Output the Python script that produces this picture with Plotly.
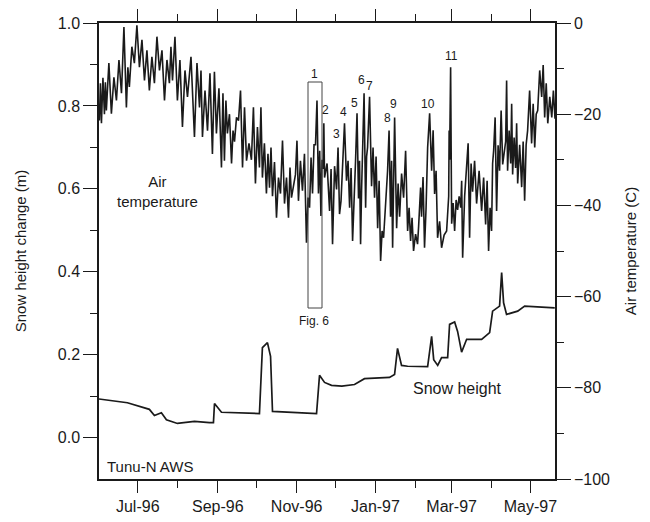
import pandas as pd
import plotly.graph_objects as go

START = pd.Timestamp("1996-06-01")

# ---- data (days since 1 Jun 1996) ----
temp_day = [0.3, 1.9, 4.2, 5.7, 9.6, 13.5, 17.4, 21.2, 23.5, 27.4, 31.3, 35.2, 39.0, 42.9, 46.8,
            50.7, 54.5, 56.9, 60.7, 64.6, 68.5, 73.9, 77.8, 80.1, 84.0, 87.8, 90.9, 94.8, 97.1,
            99.4, 102.6, 104.9, 108.0, 111.1, 114.2, 118.0, 121.1, 124.2, 126.5, 129.6, 132.0,
            134.3, 137.4, 140.5, 143.6, 146.7, 149.0, 152.1, 154.4, 157.5, 160.6, 163.0, 165.3,
            167.6, 169.9, 171.8, 173.5, 174.6, 178.5, 180.8, 183.9, 186.2, 188.5, 191.6, 194.0,
            196.3, 198.6, 200.9, 202.5, 204.0, 206.4, 207.9, 211.0, 213.3, 215.7, 218.0, 220.3,
            223.4, 225.7, 227.3, 230.4, 232.7, 235.8, 238.9, 241.2, 243.5, 246.6, 248.2, 249.7,
            252.0, 254.4, 257.5, 259.8, 262.1, 265.2, 269.1, 270.7, 271.4, 273.0, 275.3, 277.6,
            280.0, 281.5, 284.6, 286.9, 289.2, 292.3, 296.2, 299.3, 301.6, 303.9, 305.5, 307.8,
            310.1, 312.5, 314.8, 316.3, 318.7, 320.2, 322.5, 324.1, 327.2, 329.5, 331.8, 334.9,
            337.3, 339.6, 342.7, 345.0, 347.4, 350.5, 353.0]
temp_high = [-13.2, -12.0, -13.0, -8.8, -11.9, -8.1, -0.9, -9.7, -5.2, -0.5, -3.7, -6.0, -7.4, -3.0, -6.0,
             -8.1, -5.2, -3.0, -8.1, -10.4, -7.4, -8.8, -10.4, -14.8, -11.0, -10.7, -14.3, -15.4, -17.0,
             -20.0, -23.6, -20.7, -14.8, -18.5, -26.4, -18.5, -22.8, -18.5, -26.4, -28.7, -27.3,
             -30.5, -33.9, -25.8, -33.9, -31.7, -35.2, -25.8, -30.2, -28.7, -38.3, -29.5, -26.7,
             -17.0, -28.0, -30.0, -22.0, -30.8, -32.0, -31.4, -27.3, -39.0, -22.0, -30.2, -31.8,
             -36.1, -19.8, -30.2, -36.8, -15.4, -29.3, -16.2, -27.3, -29.3, -34.6, -45.6, -39.6,
             -23.6, -30.2, -20.7, -35.2, -33.0, -28.0, -40.5, -42.7, -46.3, -44.7, -36.1, -33.8,
             -40.5, -19.8, -23.5, -32.4, -43.5, -46.5, -41.2, -23.6, -9.7, -39.5, -38.8, -38.0,
             -34.6, -38.0, -26.4, -30.8, -30.2, -32.4, -33.9, -34.6, -40.5, -30.8, -20.7, -26.8,
             -19.2, -28.0, -12.6, -23.6, -17.7, -25.1, -22.0, -26.7, -26.0, -26.7, -14.8, -17.7,
             -20.0, -10.4, -9.2, -13.2, -16.2, -14.8, -15.5]
temp_low = [-21.4, -22.0, -20.0, -19.2, -19.9, -17.0, -15.4, -18.5, -14.0, -8.8, -9.7, -12.6, -14.8, -13.2, -10.4,
            -17.0, -13.2, -12.6, -17.0, -22.8, -16.2, -25.0, -18.5, -25.0, -23.6, -28.7, -24.2, -31.7, -30.2,
            -24.2, -30.8, -26.0, -21.4, -31.7, -30.2, -30.0, -35.2, -31.7, -33.9, -37.4, -36.1,
            -38.0, -42.7, -37.4, -39.6, -42.7, -38.3, -33.2, -39.0, -36.8, -48.2, -40.5, -37.4,
            -26.7, -37.4, -42.3, -32.0, -33.9, -41.2, -48.5, -36.5, -41.9, -32.4, -34.6, -40.5,
            -47.8, -30.2, -38.5, -48.5, -27.3, -40.5, -27.3, -35.8, -38.3, -45.0, -52.2, -47.1,
            -32.4, -42.5, -49.3, -45.0, -42.5, -38.3, -45.6, -47.8, -50.0, -48.5, -40.5, -42.5,
            -49.3, -27.3, -32.4, -37.5, -47.1, -49.3, -45.6, -38.0, -30.0, -44.0, -45.6, -41.0,
            -40.5, -51.5, -32.4, -47.1, -37.0, -39.6, -41.2, -44.2, -50.0, -45.6, -28.0, -41.2,
            -32.4, -31.0, -26.0, -32.4, -30.8, -33.2, -31.8, -35.2, -36.0, -39.0, -23.6, -26.4,
            -27.3, -19.2, -16.2, -20.7, -22.0, -20.7, -21.0]

snow_day = [0.0, 22.0, 39.0, 42.9, 48.3, 52.2, 60.7, 73.9, 85.5, 88.6, 89.4, 94.8, 124.2, 126.5,
            130.4, 132.8, 134.3, 151.4, 168.4, 170.7, 174.6, 180.0, 188.0, 197.8, 205.5, 224.9,
            228.8, 231.1, 234.2, 238.9, 254.4, 257.5, 259.1, 262.2, 265.2, 269.9, 271.4, 275.3,
            277.6, 280.7, 284.6, 296.2, 302.4, 304.7, 310.1, 311.7, 313.2, 315.5, 324.1, 329.5, 352.8]
snow_val = [0.093, 0.084, 0.068, 0.053, 0.060, 0.043, 0.034, 0.039, 0.036, 0.036, 0.082, 0.061, 0.058, 0.217,
            0.229, 0.196, 0.063, 0.061, 0.058, 0.150, 0.133, 0.126, 0.124, 0.128, 0.142, 0.145,
            0.152, 0.215, 0.174, 0.172, 0.171, 0.244, 0.188, 0.174, 0.193, 0.193, 0.273, 0.279,
            0.256, 0.206, 0.237, 0.237, 0.253, 0.305, 0.317, 0.398, 0.325, 0.297, 0.305, 0.317, 0.313]

major_months = ["1996-07-01", "1996-09-01", "1996-11-01", "1997-01-01", "1997-03-01", "1997-05-01"]
major_labels = ["Jul-96", "Sep-96", "Nov-96", "Jan-97", "Mar-97", "May-97"]
minor_months = ["1996-08-01", "1996-10-01", "1996-12-01", "1997-02-01", "1997-04-01"]

peak_labels = ["1", "2", "3", "4", "5", "6", "7", "8", "9", "10", "11"]

# ---- build traces: saw-tooth between the read low / high of each sample ----
tx, ty = [], []
n = len(temp_day)
for i in range(n):
    d = temp_day[i]
    nxt = temp_day[i + 1] if i + 1 < n else d + 2.0
    t_lo = START + pd.to_timedelta(d, unit="D")
    t_hi = START + pd.to_timedelta(d + 0.5 * (nxt - d), unit="D")
    tx += [t_lo, t_hi]
    ty += [temp_low[i], temp_high[i]]

sx = [START + pd.to_timedelta(d, unit="D") for d in snow_day]

FONT = "Liberation Sans, Arial, sans-serif"
INK = "#1a1a1a"

fig = go.Figure()
fig.add_trace(go.Scatter(x=sx, y=snow_val, mode="lines", yaxis="y",
                         line=dict(color=INK, width=1.7), showlegend=False))
fig.add_trace(go.Scatter(x=tx, y=ty, mode="lines", yaxis="y2",
                         line=dict(color=INK, width=1.6), showlegend=False))

W, H = 650, 522
L, R, T, B = 99, 95, 23, 43
pw, ph = W - L - R, H - T - B


def px2paper(px, py):
    return (px - L) / pw, (H - B - py) / ph


annos = []
peak_pos = [(314, 74), (325, 110), (336, 134), (343, 112), (354, 103), (361, 80), (369, 86),
            (387, 118), (393, 104), (428, 104), (451, 56)]
for lab, (px, py) in zip(peak_labels, peak_pos):
    xp, yp = px2paper(px, py)
    annos.append(dict(x=xp, y=yp, xref="paper", yref="paper", text=lab, showarrow=False,
                      xanchor="center", yanchor="middle",
                      font=dict(family=FONT, size=12, color=INK)))

for txt, (px, py), sz, anc in [("Fig. 6", (314, 321), 12, "center"),
                               ("Air<br>temperature", (157, 191), 15, "center"),
                               ("Snow height", (457, 388), 16, "center"),
                               ("Tunu-N AWS", (105, 466), 15, "left")]:
    xp, yp = px2paper(px, py)
    annos.append(dict(x=xp, y=yp, xref="paper", yref="paper", text=txt, showarrow=False,
                      xanchor=anc, yanchor="middle", font=dict(family=FONT, size=sz, color=INK)))

bx0, by0 = px2paper(308, 308)
bx1, by1 = px2paper(322, 82)

fig.update_layout(
    width=W, height=H,
    margin=dict(l=L, r=R, t=T, b=B, autoexpand=False),
    paper_bgcolor="white", plot_bgcolor="white",
    font=dict(family=FONT, size=16, color=INK),
    annotations=annos,
    shapes=[dict(type="rect", xref="paper", yref="paper", x0=bx0, x1=bx1, y0=by0, y1=by1,
                 line=dict(color="#444", width=1))],
    xaxis=dict(type="date", range=["1996-06-01", "1997-05-20"], automargin=False,
               tickmode="array", tickvals=major_months, ticktext=major_labels,
               ticks="outside", ticklen=12, tickwidth=1.2, tickcolor=INK,
               minor=dict(tickmode="array", tickvals=minor_months, ticks="outside",
                          ticklen=7, tickwidth=1.2, tickcolor=INK, showgrid=False),
               showline=True, linecolor=INK, linewidth=1.5, mirror="ticks",
               showgrid=False, zeroline=False, tickfont=dict(size=16)),
    yaxis=dict(range=[-0.1, 1.0], tickmode="array", automargin=False,
               tickvals=[0.0, 0.2, 0.4, 0.6, 0.8, 1.0],
               ticktext=["0.0", "0.2", "0.4", "0.6", "0.8", "1.0"],
               ticks="outside", ticklen=14, tickwidth=1.2, tickcolor=INK,
               minor=dict(tickmode="array", tickvals=[0.1, 0.3, 0.5, 0.7, 0.9], ticks="outside",
                          ticklen=7, tickwidth=1.2, tickcolor=INK, showgrid=False),
               showline=True, linecolor=INK, linewidth=1.5, showgrid=False, zeroline=False,
               title=dict(text="Snow height change (m)", font=dict(size=15), standoff=28),
               tickfont=dict(size=16)),
    yaxis2=dict(range=[-100, 0], overlaying="y", side="right", anchor="x", automargin=False,
                tickmode="array", tickvals=[-100, -80, -60, -40, -20, 0],
                ticks="outside", ticklen=14, tickwidth=1.2, tickcolor=INK,
                minor=dict(tickmode="array", tickvals=[-90, -70, -50, -30, -10], ticks="outside",
                           ticklen=7, tickwidth=1.2, tickcolor=INK, showgrid=False),
                showline=True, linecolor=INK, linewidth=1.5, showgrid=False, zeroline=False,
                title=dict(text="Air temperature (C)", font=dict(size=15), standoff=16),
                tickfont=dict(size=16)),
)

fig.write_html("out.html")
